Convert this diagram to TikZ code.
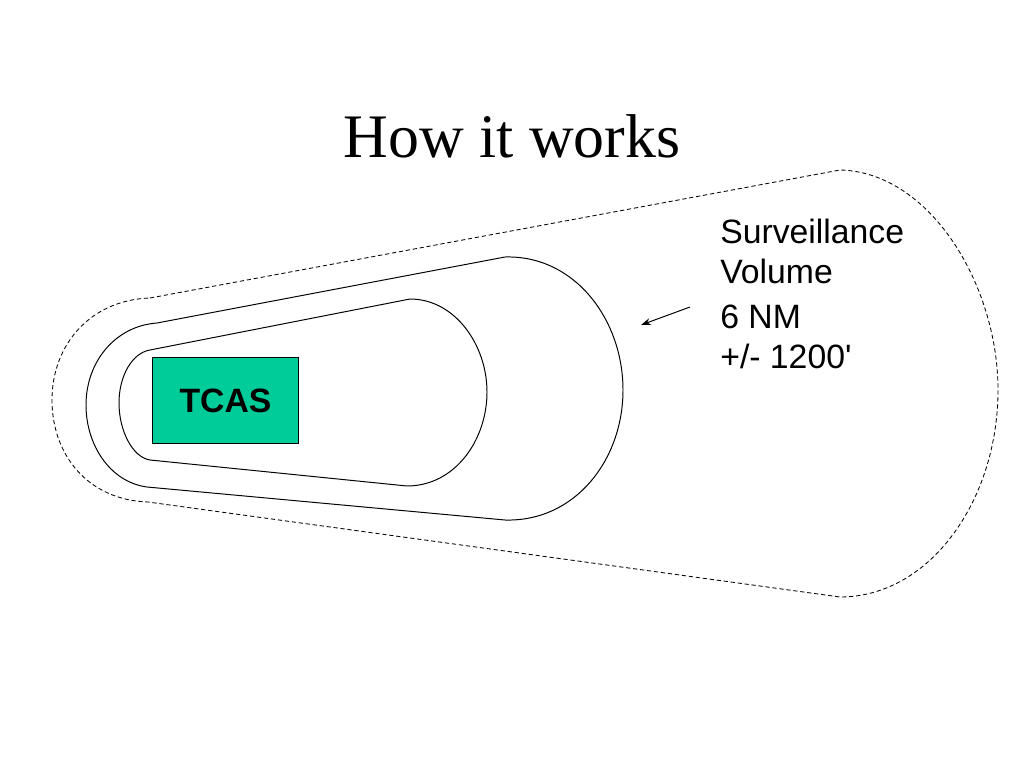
\documentclass[tikz,border=0pt]{standalone}
\usepackage{fontspec}
\setmainfont{Liberation Serif}
\newfontfamily\arialfont{Liberation Sans}
\usetikzlibrary{arrows.meta}
\definecolor{tcasgreen}{RGB}{0,204,153}
\tikzset{
  outline/.style={draw=black, line width=0.7pt},
  dashline/.style={draw=black, line width=0.6pt, dash pattern=on 3pt off 2pt},
  label/.style={font=\arialfont\fontsize{24}{28}\selectfont, anchor=base west, inner sep=0pt},
  tcasbox/.style={draw=black, line width=0.7pt, fill=tcasgreen, minimum width=3.63cm, minimum height=2.13cm, inner sep=0pt, font=\arialfont\bfseries\fontsize{24}{28}\selectfont},
  pointer/.style={draw=black, line width=0.7pt, -{Stealth[length=7pt,width=5pt]}}
}
\begin{document}
\begin{tikzpicture}[x=0.025cm, y=-0.025cm]
\useasboundingbox (0,0) rectangle (1024,768);
% title
\node[font=\fontsize{44}{50}\selectfont, anchor=base, inner sep=0pt] (title) at (512,157) {How it works};
% outer dashed surveillance volume
\draw[dashline] (150,298) -- (840,170)
  .. controls (930,172) and (998,285) .. (998,390)
  .. controls (998,500) and (930,597) .. (840,597)
  -- (148,502)
  .. controls (88,500) and (52,455) .. (52,400)
  .. controls (52,345) and (90,300) .. (150,298) -- cycle;
% middle solid shape
\draw[outline] (157,323) -- (505,257)
  .. controls (575,255) and (623,320) .. (623,390)
  .. controls (623,460) and (575,522) .. (505,520)
  -- (147,487)
  .. controls (110,482) and (86,445) .. (86,405)
  .. controls (86,362) and (115,326) .. (157,323) -- cycle;
% inner solid shape
\draw[outline] (150,350) -- (410,299)
  .. controls (455,299) and (487,345) .. (487,392)
  .. controls (487,440) and (455,486) .. (407,486)
  -- (150,460)
  .. controls (132,457) and (119,430) .. (119,403)
  .. controls (119,376) and (132,353) .. (150,350) -- cycle;
% TCAS box
\node[tcasbox] (tcas) at (225.5,400.5) {TCAS};
% labels
\node[label] (l1) at (720,243) {Surveillance};
\node[label] (l2) at (720,283) {Volume};
\node[label] (l3) at (720,328) {6 NM};
\node[label] (l4) at (720,368) {+/- 1200'};
% arrow
\coordinate (arrowstart) at (690,307);
\coordinate (arrowend) at (641,325);
\draw[pointer] (arrowstart) -- (arrowend);
\end{tikzpicture}
\end{document}
